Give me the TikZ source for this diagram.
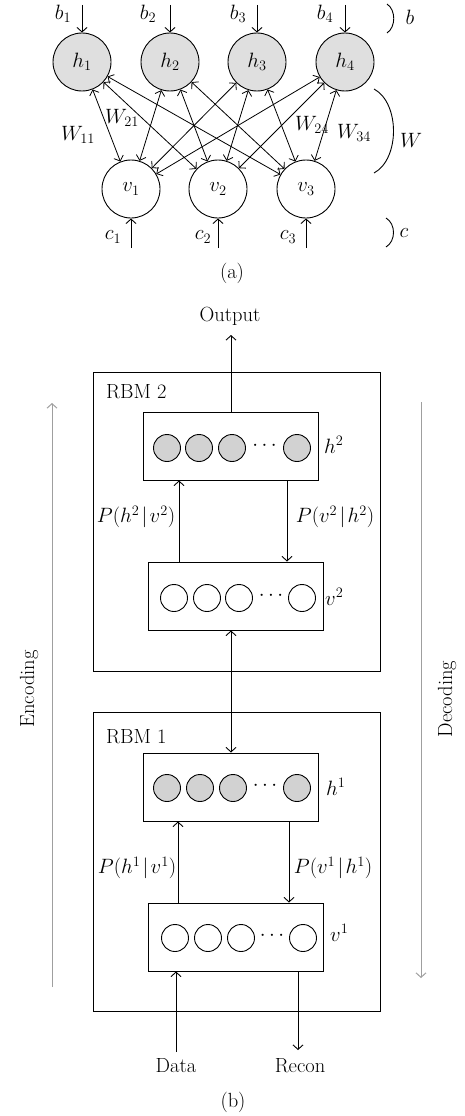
\documentclass[tikz,border=0pt]{standalone}
\usetikzlibrary{arrows.meta}
\begin{document}
\begin{tikzpicture}[x=1pt,y=-1pt,
  >={Straight Barb[length=4.5pt,width=10pt]},
  every node/.style={font=\fontsize{20.5}{24}\selectfont, inner sep=0pt},
  hnode/.style={circle,draw,fill=gray!25,minimum size=58pt,line width=0.9pt},
  vnode/.style={circle,draw,fill=white,minimum size=58pt,line width=0.9pt},
  conn/.style={<->,line width=0.8pt},
  bias/.style={->,line width=0.9pt},
  brace/.style={line width=0.9pt},
  outerbox/.style={draw,line width=1pt,minimum width=287pt,minimum height=299pt},
  layerbox/.style={draw,line width=1pt,minimum width=175pt,minimum height=68pt},
  hunit/.style={circle,draw,fill=gray!35,minimum size=27pt,line width=0.9pt},
  vunit/.style={circle,draw,fill=white,minimum size=27pt,line width=0.9pt},
  flow/.style={line width=0.9pt},
  grayarr/.style={->,draw=gray!75,line width=1pt}]
\useasboundingbox (0,0) rectangle (465,1116);

% ---------- (a) ----------
\foreach \i/\x in {1/82,2/170,3/257,4/345}
  \node[hnode] (h\i) at (\x,62) {$h_\i$};
\foreach \j/\x in {1/131,2/218,3/306}
  \node[vnode] (v\j) at (\x,189) {$v_\j$};
\foreach \i in {1,...,4}
  \foreach \j in {1,2,3}
    \draw[conn] (h\i) -- (v\j);

\foreach \i/\x/\lx in {1/82/63,2/170/148,3/257/238,4/345/325}{
  \coordinate (bt\i) at (\x,5);
  \draw[bias] (bt\i) -- (h\i);
  \node (bl\i) at (\lx,14) {$b_\i$};
}
\foreach \j/\x/\lx in {1/131/113,2/218/203,3/306/288}{
  \coordinate (cb\j) at (\x,248);
  \draw[bias] (cb\j) -- (v\j);
  \node (cl\j) at (\lx,237) {$c_\j$};
}
\node (w11) at (78,135) {$W_{11}$};
\node (w21) at (122,118) {$W_{21}$};
\node (w24) at (312,125) {$W_{24}$};
\node (w34) at (354,133) {$W_{34}$};

\draw[brace] (387,4) .. controls (396,10) and (396,27) .. (387,33);
\node (bb) at (410,17) {$b$};
\draw[brace] (374,89) .. controls (400,103) and (400,159) .. (374,173);
\node (bw) at (411,140) {$W$};
\draw[brace] (386,218) .. controls (396,224) and (396,241) .. (386,247);
\node (bc) at (404,233) {$c$};

\node (capa) at (232,273) {(a)};

% ---------- (b) ----------
\node[outerbox] (rbm2) at (236.5,521.5) {};
\node[outerbox] (rbm1) at (236.5,862) {};
\node[anchor=west] (rbm2l) at (106,392) {RBM 2};
\node[anchor=west] (rbm1l) at (106,737) {RBM 1};

\node[layerbox] (h2b) at (230.5,446) {};
\node[layerbox] (v2b) at (235.5,596) {};
\node[layerbox] (h1b) at (230.5,787) {};
\node[layerbox] (v1b) at (235.5,937) {};

\foreach \x [count=\k] in {167,199,232,297}
  \node[hunit] (hu2\k) at (\x,448) {};
\node (hd2) at (264.5,446) {$\cdots$};
\foreach \x [count=\k] in {174,207,239,302}
  \node[vunit] (vu2\k) at (\x,598) {};
\node (vd2) at (271,596) {$\cdots$};
\foreach \x [count=\k] in {167,200,233,297}
  \node[hunit] (hu1\k) at (\x,788) {};
\node (hd1) at (265,786) {$\cdots$};
\foreach \x [count=\k] in {175,208,241,303}
  \node[vunit] (vu1\k) at (\x,938) {};
\node (vd1) at (272,936) {$\cdots$};

\node[anchor=west] (h2l) at (324,445) {$h^2$};
\node[anchor=west] (v2l) at (325,597) {$v^2$};
\node[anchor=west] (h1l) at (326,787) {$h^1$};
\node[anchor=west] (v1l) at (330,933) {$v^1$};

% output
\coordinate (outtip) at (231,335);
\draw[flow,->] (h2b.north -| outtip) -- (outtip);
\node (out) at (230,316) {Output};

% RBM 2 internal
\draw[flow,->] (v2b.north -| 179,0) -- (h2b.south -| 179,0);
\draw[flow,->] (h2b.south -| 287,0) -- (v2b.north -| 287,0);
\node (p1) at (136,517) {$P(h^2\mkern2mu|\mkern2mu v^2)$};
\node (p2) at (335,517) {$P(v^2\mkern2mu|\mkern2mu h^2)$};

% between RBMs
\draw[flow,<->] (v2b.south -| 231,0) -- (h1b.north -| 231,0);

% RBM 1 internal
\draw[flow,->] (v1b.north -| 178,0) -- (h1b.south -| 178,0);
\draw[flow,->] (h1b.south -| 289,0) -- (v1b.north -| 289,0);
\node (p3) at (137,868) {$P(h^1\mkern2mu|\mkern2mu v^1)$};
\node (p4) at (333,868) {$P(v^1\mkern2mu|\mkern2mu h^1)$};

% data / recon
\coordinate (dat) at (176,1052);
\coordinate (rec) at (298,1050);
\draw[flow,->] (dat) -- (v1b.south -| dat);
\draw[flow,->] (v1b.south -| rec) -- (rec);
\node (datal) at (176,1066) {Data};
\node (recl) at (300,1066) {Recon};

% encoding / decoding
\coordinate (enc0) at (52,987);
\coordinate (enc1) at (52,403);
\draw[grayarr] (enc0) -- (enc1);
\node[rotate=90] (encl) at (29,689) {Encoding};
\coordinate (dec0) at (421,402);
\coordinate (dec1) at (421,978);
\draw[grayarr] (dec0) -- (dec1);
\node[rotate=90] (decl) at (447,699) {Decoding};

\node (capb) at (233,1102) {(b)};
\end{tikzpicture}
\end{document}
